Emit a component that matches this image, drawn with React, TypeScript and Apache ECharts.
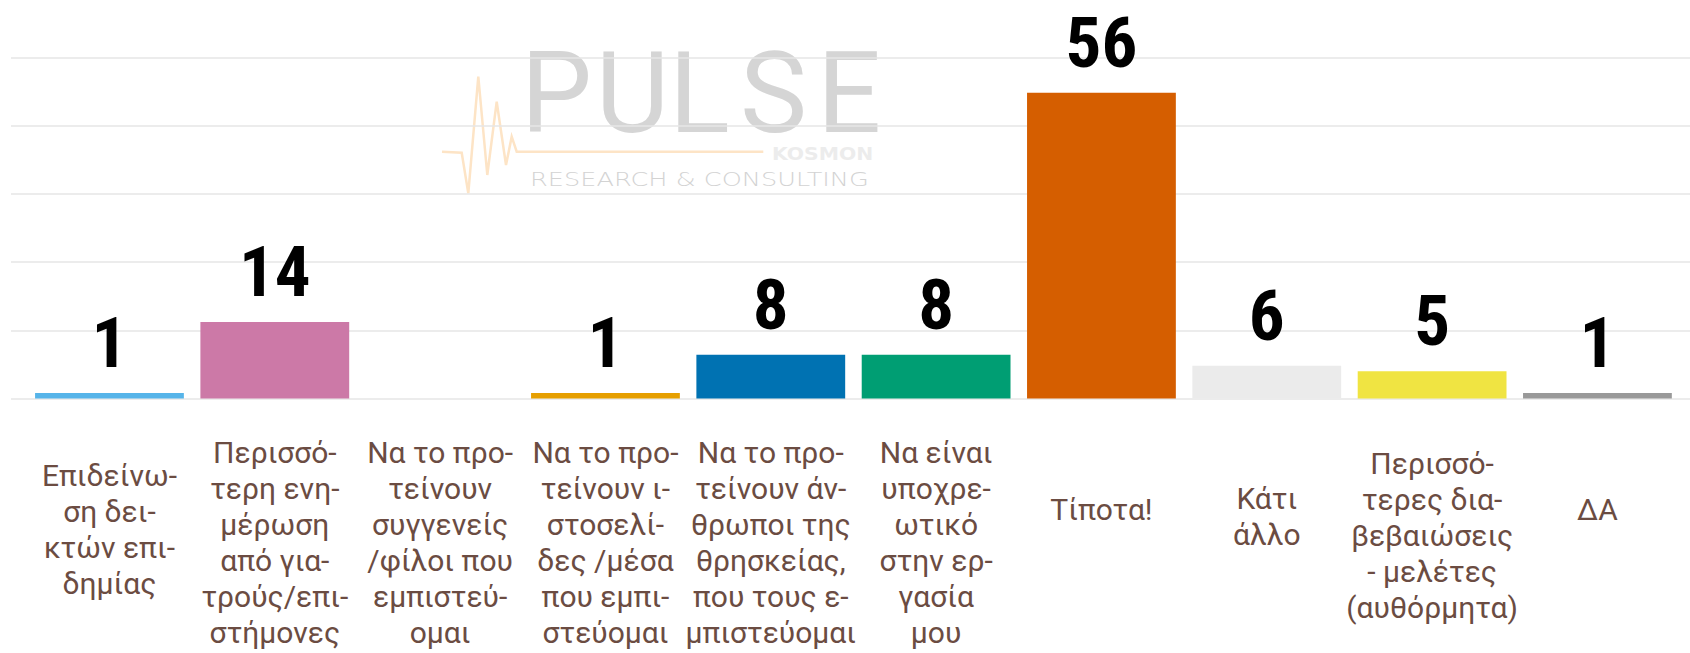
import React, { useEffect, useRef } from "react";
import * as echarts from "echarts";

const categories: string[] = [
  "Επιδείνω-\nση δει-\nκτών επι-\nδημίας",
  "Περισσό-\nτερη ενη-\nμέρωση\nαπό για-\nτρούς/επι-\nστήμονες",
  "Να το προ-\nτείνουν\nσυγγενείς\n/φίλοι που\nεμπιστεύ-\nομαι",
  "Να το προ-\nτείνουν ι-\nστοσελί-\nδες /μέσα\nπου εμπι-\nστεύομαι",
  "Να το προ-\nτείνουν άν-\nθρωποι της\nθρησκείας,\nπου τους ε-\nμπιστεύομαι",
  "Να είναι\nυποχρε-\nωτικό\nστην ερ-\nγασία\nμου",
  "Τίποτα!",
  "Κάτι\nάλλο",
  "Περισσό-\nτερες δια-\nβεβαιώσεις\n- μελέτες\n(αυθόρμητα)",
  "ΔΑ",
];

const values: number[] = [1, 14, 0, 1, 8, 8, 56, 6, 5, 1];

const barColors: string[] = [
  "#56B4E9",
  "#CC79A7",
  "#009E73",
  "#E69F00",
  "#0072B2",
  "#009E73",
  "#D55E00",
  "#EBEBEB",
  "#F0E442",
  "#999999",
];

const yMin = 0;
const yMax = 62.5;
const yInterval = 12.5;

const pulseLetters: string[] = ["P", "U", "L", "S", "E"];

export default function App() {
  const ref = useRef<HTMLDivElement>(null);

  useEffect(() => {
    if (!ref.current) return;
    const chart = echarts.init(ref.current, null, { renderer: "svg" });

    const gridTop = 57.3;
    const gridBottom = 254.5;
    const labelFont = "Roboto, 'Noto Sans', sans-serif";
    const valueFont =
      "'Liberation Sans Narrow', 'Roboto Condensed', 'DejaVu Sans Condensed', sans-serif";

    // watermark letter placement (decoration)
    const letterX = [556.5, 632.5, 669, 773.5, 849];
    const letterAlign = ["center", "center", "left", "center", "center"];
    const pulsePts = [
      [442, 151.7],
      [461.7, 152.7],
      [468.3, 193.3],
      [478.3, 76.7],
      [487.3, 175],
      [496.7, 101.7],
      [506, 165],
      [511.7, 136.7],
      [516.7, 151.7],
      [763.3, 151.7],
    ];

    const option: any = {
      animation: false,
      backgroundColor: "#ffffff",
      grid: [
        { left: 26.8, right: 9.9, top: gridTop, bottom: gridBottom },
        { left: 11, right: 0, top: gridTop, bottom: gridBottom },
      ],
      xAxis: [
        {
          type: "category",
          gridIndex: 0,
          data: categories.map((c) => {
            const lines = c.split("\n").length;
            return {
              value: c,
              textStyle: { padding: [11.4 * (6 - lines), 0, 0, 0] },
            };
          }),
          axisLine: { show: false },
          axisTick: { show: false },
          axisLabel: {
            interval: 0,
            margin: 36,
            color: "#6b4c42",
            fontFamily: labelFont,
            fontSize: 30,
            lineHeight: 36,
            verticalAlign: "top",
            align: "center",
          },
        },
        {
          type: "value",
          gridIndex: 1,
          min: 0,
          max: 1,
          show: false,
        },
      ],
      yAxis: [
        {
          type: "value",
          gridIndex: 0,
          min: yMin,
          max: yMax,
          interval: yInterval,
          axisLabel: { show: false },
          axisLine: { show: false },
          axisTick: { show: false },
          splitLine: { show: false },
        },
        {
          type: "value",
          gridIndex: 1,
          min: yMin,
          max: yMax,
          interval: yInterval,
          axisLabel: { show: false },
          axisLine: { show: false },
          axisTick: { show: false },
          splitLine: {
            show: true,
            lineStyle: { color: "#e6e6e6", width: 1.5 },
          },
        },
      ],
      graphic: [
        ...pulseLetters.map((ch, i) => ({
          type: "text",
          z: -1,
          x: letterX[i],
          y: 93,
          style: {
            text: ch,
            fill: "#d5d5d5",
            font: "normal 113px Roboto, sans-serif",
            lineHeight: 84,
            align: letterAlign[i],
            verticalAlign: "middle",
          },
        })),
        {
          type: "text",
          z: -1,
          x: 772,
          y: 153.5,
          scaleX: 1.13,
          style: {
            text: "KOSMON",
            fill: "#ececec",
            font: "bold 18px 'DejaVu Sans', sans-serif",
            lineHeight: 16,
            align: "left",
            verticalAlign: "middle",
          },
        },
        {
          type: "text",
          z: -1,
          x: 530,
          y: 179.5,
          scaleX: 1.28,
          style: {
            text: "RESEARCH & CONSULTING",
            fill: "#d3d3d3",
            font: "200 20px 'DejaVu Sans', sans-serif",
            lineHeight: 18,
            align: "left",
            verticalAlign: "middle",
          },
        },
        {
          type: "polyline",
          z: -1,
          shape: { points: pulsePts },
          style: { stroke: "#fde4c6", lineWidth: 2.5, fill: null },
        },
      ],
      series: [
        {
          type: "bar",
          xAxisIndex: 0,
          yAxisIndex: 0,
          barCategoryGap: "10%",
          data: values.map((v, i) => ({
            value: v,
            itemStyle: { color: barColors[i] },
          })),
          label: {
            show: true,
            position: "top",
            distance: 15,
            color: "#000000",
            fontFamily: valueFont,
            fontWeight: "bold",
            fontSize: 71,
            lineHeight: 71,
            formatter: (p: any) => (p.value === 0 ? "" : String(p.value)),
          },
        },
      ],
    };

    chart.setOption(option);
    return () => {
      chart.dispose();
    };
  }, []);

  return (
    <div
      ref={ref}
      style={{
        position: "fixed",
        left: 0,
        top: 0,
        width: 1690,
        height: 653,
        background: "#ffffff",
      }}
    />
  );
}
